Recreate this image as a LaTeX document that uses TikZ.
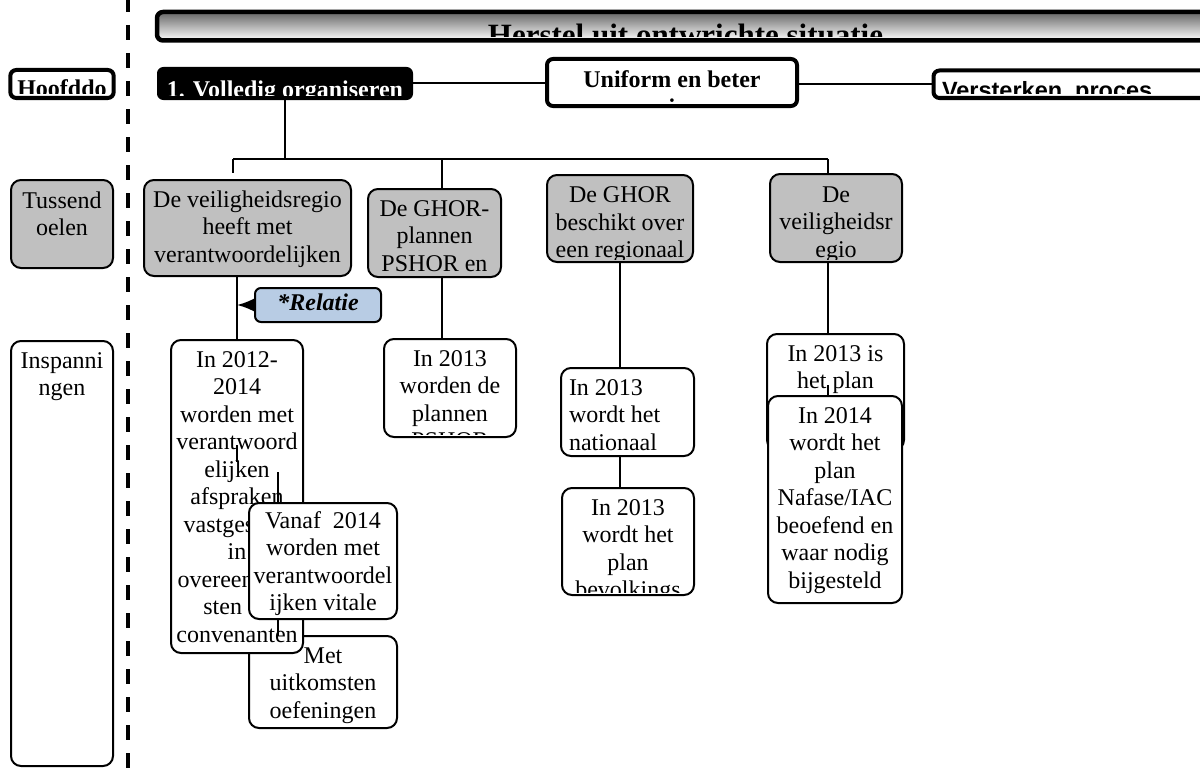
\documentclass[tikz,border=0pt]{standalone}
\usepackage{fontspec}
\setmainfont{Liberation Serif}
\newfontfamily\arialf{Liberation Sans}
\usetikzlibrary{arrows.meta}
\definecolor{tgray}{HTML}{C0C0C0}
\definecolor{relblue}{HTML}{B8CCE4}
\newcommand\bx[6]{\node[#2, minimum width={#5-#3}, minimum height={#6-#4}] (#1) at (#3,#4) {};}
\newcommand\bt[6][]{\begin{scope}\clip ([shift={(#5pt,-#5pt)}]#2.north west) rectangle ([shift={(-#5pt,#5pt)}]#2.south east);\node[txt,#1] (#2t) at (#3,#4) {#6};\end{scope}}
\newcommand\ml[1]{\parbox[t]{300pt}{\centering #1}}
\begin{document}
\begin{tikzpicture}[x=1pt,y=-1pt,
 thin/.style={draw, line width=2pt, rounded corners=10pt, inner sep=0pt, outer sep=0pt, anchor=north west, fill=white},
 thick/.style={draw, line width=4pt, rounded corners=6pt, inner sep=0pt, outer sep=0pt, anchor=north west, fill=white},
 grayf/.style={fill=tgray},
 conn/.style={line width=2pt},
 txt/.style={inner sep=0pt, outer sep=0pt, anchor=base, font=\fontsize{24}{27.5}\selectfont},
 bold24/.style={font=\fontsize{24}{27.5}\selectfont\bfseries},
]
\useasboundingbox (0,0) rectangle (1200,768);
\clip (0,0) rectangle (1200,768);

% dashed separator
\coordinate (dtop) at (128,-3);
\coordinate (dbot) at (128,772);
\draw[line width=3.5pt, dash pattern=on 15pt off 13pt] (dtop) -- (dbot);

% left column
\bx{hoofd}{thick}{10.3}{70}{113.7}{98}
\bt[bold24]{hoofd}{62}{96}{4}{Hoofddo}
\bx{tus}{thin,grayf}{11}{180}{113}{268}
\bt{tus}{62}{208}{3}{\ml{Tussend\\oelen}}
\bx{insp}{thin}{11}{341}{113}{766}
\bt{insp}{62}{368}{3}{\ml{Inspanni\\ngen}}

% header
\bx{head}{thick, line width=4.5pt, top color=black!60, middle color=black!12, bottom color=white}{157}{12}{1214}{40.5}
\bt[font=\fontsize{31}{36}\selectfont\bfseries]{head}{685.5}{45.5}{4.25}{Herstel uit ontwrichte situatie}

% top row
\bx{vol}{thick, fill=black, line width=1pt}{157.5}{67.5}{412.5}{99.5}
\bt[bold24, text=white]{vol}{285}{98}{4}{1. Volledig organiseren}
\bx{uni}{thick}{547}{59}{797}{106}
\bt[bold24]{uni}{672}{88}{4}{\ml{Uniform en beter\\i}}
\bx{ver}{thick}{933.5}{70.5}{1240}{98}
\bt[font=\arialf\bfseries\fontsize{23.5}{28}\selectfont, anchor=base west]{ver}{942}{99}{4}{Versterken\ \ proces}
\draw[conn] (vol.east) -- (vol.east -| uni.west);
\draw[conn] (uni.east |- ver.west) -- (ver.west);

% tussendoelen
\bx{dvr}{thin,grayf}{144}{180}{351}{276}
\bt{dvr}{247.5}{207}{3}{\ml{De veiligheidsregio\\heeft met\\verantwoordelijken}}
\bx{ghp}{thin,grayf}{368}{189}{501}{277}
\bt{ghp}{434.5}{216}{3}{\ml{De GHOR-\\plannen\\PSHOR en}}
\bx{reg}{thin,grayf}{547}{175}{693}{262}
\bt{reg}{620}{202.5}{3}{\ml{De GHOR\\beschikt over\\een regionaal}}
\bx{dvr2}{thin,grayf}{770}{174}{902}{262}
\bt{dvr2}{836}{202}{3}{\ml{De\\veiligheidsr\\egio}}

% bus
\coordinate (busL) at (233,159);
\coordinate (busR) at (828,159);
\draw[conn] (vol.south) -- (vol.south |- busL);
\draw[conn] (busL) -- (busR);
\draw[conn] (busL) -- ++(0,14);
\draw[conn] ([xshift=7.5pt]ghp.north |- busL) -- ([xshift=7.5pt]ghp.north);
\draw[conn] (busR) -- (busR |- dvr2.north);

% relatie
\bx{rel}{thin, fill=relblue, rounded corners=6pt}{255}{288}{381}{322}
\bt[font=\fontsize{24}{27.5}\selectfont\bfseries\itshape]{rel}{318}{310}{3}{*Relatie}

% lower-left cluster
\bx{met}{thin}{249}{636}{397}{728}
\bt{met}{323}{663}{3}{\ml{Met\\uitkomsten\\oefeningen}}
\bx{y12}{thin}{171}{340}{303}{653}
\bt{y12}{237}{367}{3}{\ml{In 2012-\\2014\\worden met\\verantwoord\\elijken\\afspraken\\vastgesteld\\in\\overeenkom\\sten en\\convenanten}}
\draw[conn] (y12.north |- dvr.south) -- (y12.north);
\draw[conn, -{Latex[length=17pt,width=13pt]}] (rel.west) -- (rel.west -| y12.north);
\coordinate (s1a) at (237,445);
\coordinate (s1b) at (237,462);
\draw[conn] (s1a) -- (s1b);
\coordinate (s2a) at (278,472);
\coordinate (s2b) at (278,503);
\draw[conn] (s2a) -- (s2b);
\bx{van}{thin}{249}{503}{397}{619}
\bt{van}{323}{528}{3}{\ml{Vanaf\ \ 2014\\worden met\\verantwoordel\\ijken vitale}}
\draw[conn] (van.south -| s2a) -- (met.north -| s2a);

% middle and right clusters
\bx{ps}{thin}{384}{339}{516}{437}
\bt{ps}{450}{366}{3}{\ml{In 2013\\worden de\\plannen\\PSHOR}}
\bx{nat}{thin}{561}{368}{694}{456}
\bt[anchor=base west]{nat}{569}{395}{3}{\parbox[t]{150pt}{\raggedright In 2013\\wordt het\\nationaal}}
\bx{bev}{thin}{562}{488}{694}{595}
\bt{bev}{628}{515}{3}{\ml{In 2013\\wordt het\\plan\\bevolkings}}
\draw[conn] ([xshift=7.5pt]ghp.south) -- ([xshift=7.5pt]ghp.south |- ps.north);
\draw[conn] (reg.south) -- (reg.south |- nat.north);
\draw[conn] (reg.south |- nat.south) -- (reg.south |- bev.north);

\bx{is13}{thin}{767}{334}{904}{450}
\bt{is13}{835.5}{361}{3}{\ml{In 2013 is\\het plan}}
\draw[conn] ([xshift=-8pt]dvr2.south) -- ([xshift=-8pt]dvr2.south |- is13.north);
\coordinate (s4a) at (828,385);
\coordinate (s4b) at (828,397);
\draw[conn] (s4a) -- (s4b);
\bx{y14}{thin}{768}{396}{902}{603}
\bt{y14}{835}{423}{3}{\ml{In 2014\\wordt het\\plan\\Nafase/IAC\\beoefend en\\waar nodig\\bijgesteld}}
\end{tikzpicture}
\end{document}
